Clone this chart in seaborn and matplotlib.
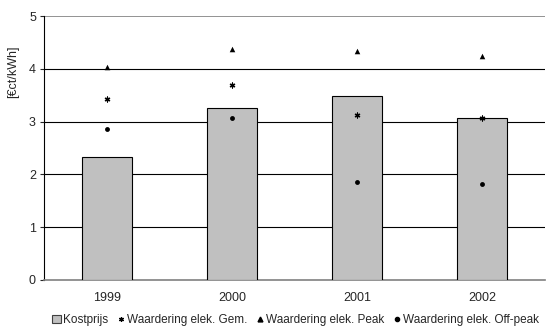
import pandas as pd
import matplotlib
matplotlib.use("Agg")
import matplotlib.pyplot as plt
from matplotlib.lines import Line2D
from matplotlib.patches import Patch
import seaborn as sns

# values
years = ["1999", "2000", "2001", "2002"]
kostprijs = [2.33, 3.26, 3.48, 3.07]
gem = [3.43, 3.70, 3.13, 3.07]
peak = [4.03, 4.38, 4.34, 4.24]
offpeak = [2.86, 3.07, 1.86, 1.82]

df = pd.DataFrame({"Jaar": years, "Kostprijs": kostprijs, "Gem": gem,
                   "Peak": peak, "Offpeak": offpeak})

sns.set_style("white")
plt.rcParams["font.family"] = ["Liberation Sans", "DejaVu Sans"]

fig = plt.figure(figsize=(5.46, 3.29), dpi=100)
ax = fig.add_axes([0.081, 0.149, 0.917, 0.802])

sns.barplot(data=df, x="Jaar", y="Kostprijs", order=years, color="#C0C0C0",
            saturation=1, width=0.4, edgecolor="black", linewidth=0.8, ax=ax, zorder=3)

ms = 4
sns.stripplot(data=df, x="Jaar", y="Gem", order=years, jitter=False, color="black",
              marker=(6, 2, 0), size=3.5, linewidth=0.9, edgecolor="black", ax=ax, zorder=4)
sns.stripplot(data=df, x="Jaar", y="Peak", order=years, jitter=False, color="black",
              marker="^", size=ms, ax=ax, zorder=4)
sns.stripplot(data=df, x="Jaar", y="Offpeak", order=years, jitter=False, color="black",
              marker="o", size=ms - 0.5, ax=ax, zorder=4)

ax.set_xlim(-0.5, 3.5)
ax.set_ylim(0, 5)
ax.set_yticks([0, 1, 2, 3, 4, 5])
for v in [1, 2, 3, 4]:
    ax.axhline(v, color="black", linewidth=0.8, zorder=1)
ax.axhline(5, color="#808080", linewidth=1.2, zorder=1)

ax.set_xticks([0, 1, 2, 3])
ax.set_xticklabels(years)
ax.set_xticks([0.5, 1.5, 2.5], minor=True)
ax.tick_params(axis="x", which="major", length=0, labelsize=9, pad=9)
ax.tick_params(axis="x", which="minor", length=4, width=0.8, color="black", direction="out")
ax.tick_params(axis="y", length=3, width=0.8, labelsize=9, direction="out", left=True, pad=3)

for s in ["top", "right"]:
    ax.spines[s].set_visible(False)
ax.spines["left"].set_color("black")
ax.spines["left"].set_linewidth(0.8)
ax.spines["bottom"].set_color("#808080")
ax.spines["bottom"].set_linewidth(1.2)

ax.set_xlabel("")
ax.set_ylabel("[€ct/kWh]", fontsize=9)
ax.yaxis.set_label_coords(-0.05, 0.79)

handles = [
    Patch(facecolor="#C0C0C0", edgecolor="#404040", linewidth=0.8),
    Line2D([], [], linestyle="none", marker=(6, 2, 0), color="black", markersize=3.5, markeredgewidth=0.9),
    Line2D([], [], linestyle="none", marker="^", color="black", markersize=3.5),
    Line2D([], [], linestyle="none", marker="o", color="black", markersize=3),
]
labels = ["Kostprijs", "Waardering elek. Gem.", "Waardering elek. Peak",
          "Waardering elek. Off-peak"]
fig.legend(handles, labels, loc="center", bbox_to_anchor=(0.542, 0.027), ncol=4,
           frameon=False, fontsize=8.5, handlelength=0.7, handleheight=0.7,
           handletextpad=0.2, columnspacing=0.7, borderpad=0)

fig.savefig("out.png", dpi=100)
